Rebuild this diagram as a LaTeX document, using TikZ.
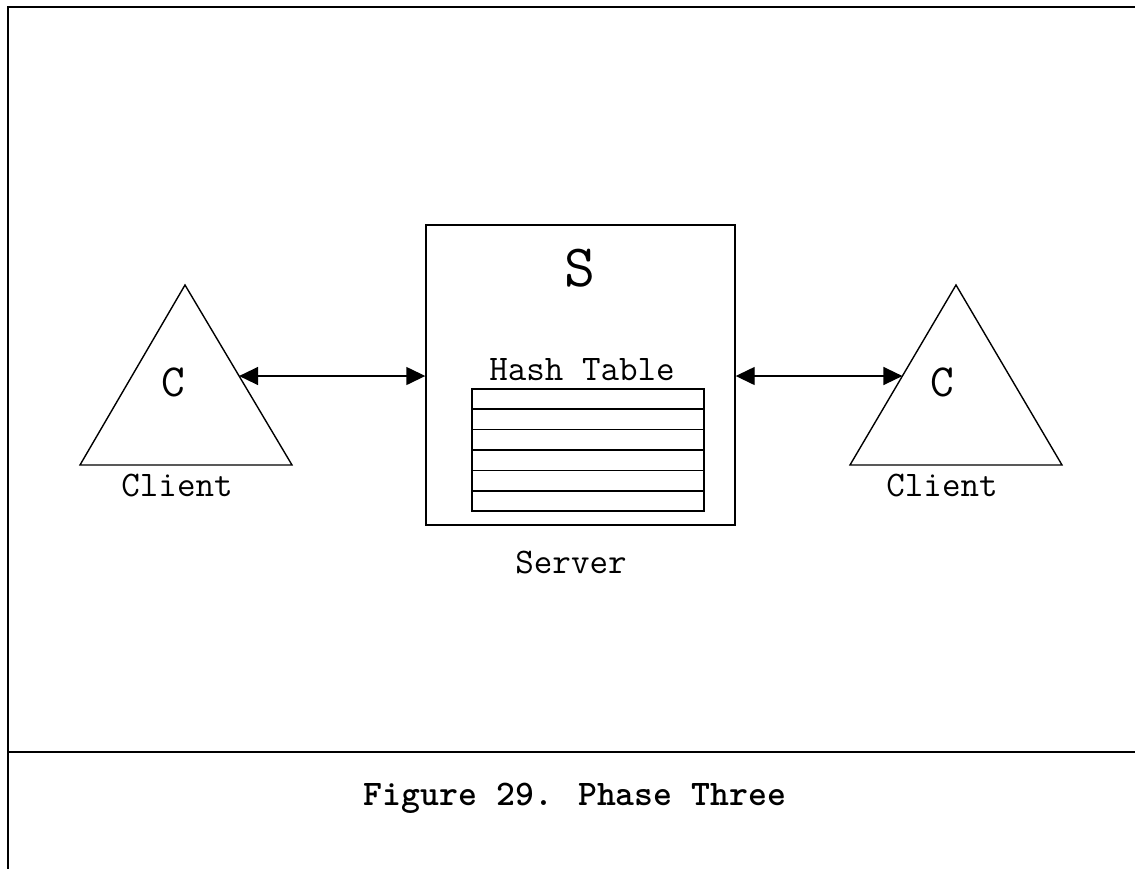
\documentclass[tikz,border=0pt]{standalone}
\usetikzlibrary{arrows.meta,calc}
\begin{document}
\begin{tikzpicture}[x=1pt,y=-1pt,
  frame/.style={line width=2pt},
  shp/.style={draw,line width=1.4pt,line join=miter},
  lbl/.style={font=\fontsize{36}{40}\selectfont\ttfamily,inner sep=0pt,anchor=base},
  big/.style={font=\fontsize{46}{50}\selectfont\ttfamily,inner sep=0pt,anchor=base},
  huge/.style={font=\fontsize{60}{64}\selectfont\ttfamily,inner sep=0pt,anchor=base},
  captxt/.style={font=\fontsize{36}{40}\selectfont\ttfamily\bfseries,inner sep=0pt,anchor=base},
  conn/.style={line width=1.4pt,{Triangle[length=19pt,width=18pt]}-{Triangle[length=19pt,width=18pt]}}]
\useasboundingbox (0,0) rectangle (1135,869);
% frame
\coordinate (fbl) at (8,869);
\coordinate (ftl) at (8,7);
\coordinate (ftr) at (1135,7);
\coordinate (fml) at (8,752);
\coordinate (fmr) at (1135,752);
\draw[frame] (fbl) -- (ftl) -- (ftr);
\draw[frame] (fml) -- (fmr);
% left client
\coordinate (ltop) at (185,285);
\coordinate (lbotl) at (80,465);
\coordinate (lbotr) at (292,465);
\draw[shp] (ltop) -- (lbotr) -- (lbotl) -- cycle;
\coordinate (le) at ($(ltop)!0.5056!(lbotr)$);
\node[big] (c1) at (173,396) {C};
\node[lbl] (cl1) at (177,496) {Client};
% right client
\coordinate (rtop) at (956,285);
\coordinate (rbotl) at (850,465);
\coordinate (rbotr) at (1062,465);
\draw[shp] (rtop) -- (rbotr) -- (rbotl) -- cycle;
\coordinate (re) at ($(rtop)!0.5056!(rbotl)$);
\node[big] (c2) at (942,396) {C};
\node[lbl] (cl2) at (942,496) {Client};
% server
\node[shp,minimum width=309pt,minimum height=300pt,inner sep=0pt] (srv) at (580.5,375) {};
\node[huge] (s) at (580,286) {S};
\node[lbl] (htl) at (582,380) {Hash Table};
\node[shp,minimum width=232pt,minimum height=122pt,inner sep=0pt] (ht) at (588,450) {};
\foreach \i in {1,...,5} {
  \draw[line width=1.4pt] ($(ht.north west)!\i/6!(ht.south west)$) -- ($(ht.north east)!\i/6!(ht.south east)$);
}
\node[lbl] (srvl) at (571,573) {Server};
% connectors
\draw[conn] (le) -- (le -| srv.west);
\draw[conn] (srv.east |- re) -- (re);
% caption
\node[captxt] (capt) at (575,805) {Figure 29. Phase Three};
\end{tikzpicture}
\end{document}
